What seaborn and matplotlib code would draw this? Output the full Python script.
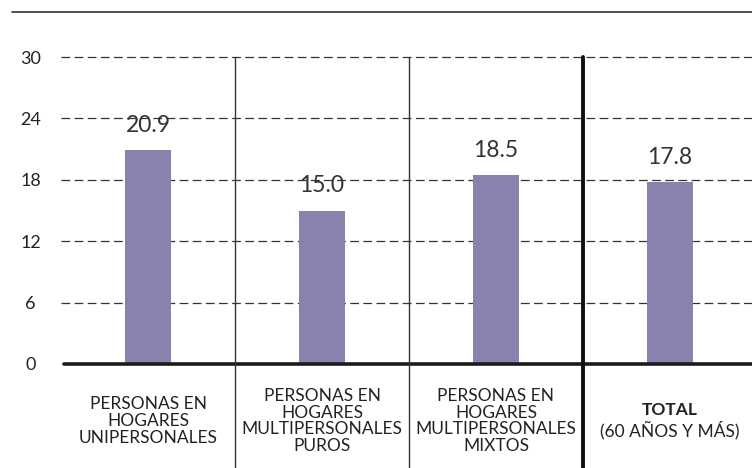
import matplotlib
matplotlib.use("Agg")
import matplotlib.pyplot as plt
from matplotlib.lines import Line2D
import seaborn as sns
import pandas as pd

# ---- data ----
categories = [
    "PERSONAS EN\nHOGARES\nUNIPERSONALES",
    "PERSONAS EN\nHOGARES\nMULTIPERSONALES\nPUROS",
    "PERSONAS EN\nHOGARES\nMULTIPERSONALES\nMIXTOS",
    "TOTAL",
]
total_sub = "(60 AÑOS Y MÁS)"
values = [20.9, 15.0, 18.5, 17.8]
value_labels = ["20.9", "15.0", "18.5", "17.8"]
yticks = [0, 6, 12, 18, 24, 30]

df = pd.DataFrame({"cat": categories, "val": values})

sns.set_theme(style="white")
FONT = ["Lato", "DejaVu Sans"]
plt.rcParams["font.family"] = FONT

W, H = 752, 468
fig = plt.figure(figsize=(W / 100, H / 100), dpi=100)
ax = fig.add_axes([61 / W, 104 / H, 696 / W, 307 / H])

sns.barplot(data=df, x="cat", y="val", order=categories, color="#8783ae",
            saturation=1, width=0.265, ax=ax, edgecolor="none", zorder=3)

ax.set_xlim(-0.5, 3.5)
ax.set_ylim(0, 30)
for s in ax.spines.values():
    s.set_visible(False)
ax.set_xlabel("")
ax.set_ylabel("")

# y ticks
ax.set_yticks(yticks)
ax.set_yticklabels([str(t) for t in yticks], fontsize=13, color="#222222")
ax.tick_params(axis="y", length=0, pad=22)
for lab in ax.get_yticklabels():
    lab.set_horizontalalignment("center")

# gridlines dashed
ax.yaxis.grid(True, linestyle=(0, (7, 3.5)), linewidth=0.9, color="#333333")
ax.set_axisbelow(True)
for k, gl in enumerate(ax.get_ygridlines()):
    gl.set_clip_on(False)
    if k == 0:
        gl.set_visible(False)

# baseline
ax.axhline(0, color="#1a1a1a", linewidth=2.6, zorder=4, xmin=0.004, clip_on=False)

# vertical separators
ymin = -(H - 364) / 307
for xpos, lw, col in [(0.5, 1.0, "#333333"), (1.5, 1.0, "#333333"), (2.5, 2.8, "#111111")]:
    ax.axvline(xpos, ymin=ymin, ymax=1, color=col, linewidth=lw, clip_on=False, zorder=5)

# x labels
ax.set_xticks(range(len(categories)))
ax.set_xticklabels([])
ax.tick_params(axis="x", length=0)
xtr = ax.get_xaxis_transform()
for i, lab in enumerate(categories[:3]):
    ax.text(i, -57 / 307, lab, transform=xtr, ha="center", va="center",
            fontsize=12.5, linespacing=1.04, color="#222222", clip_on=False)
ax.text(3, -46 / 307, categories[3], transform=xtr, ha="center", va="center",
        fontsize=12.5, fontweight="bold", color="#222222", clip_on=False)
ax.text(3, -66 / 307, total_sub, transform=xtr, ha="center", va="center",
        fontsize=12.5, color="#222222", clip_on=False)

# value labels
for i, (v, t) in enumerate(zip(values, value_labels)):
    ax.annotate(t, xy=(i, v), xytext=(0, 13), textcoords="offset points",
                ha="center", va="baseline", fontsize=16.5, color="#333333", zorder=6)

# top rule
fig.add_artist(Line2D([12 / W, 1], [1 - 12 / H, 1 - 12 / H], transform=fig.transFigure,
                      color="#333333", linewidth=1.2))

fig.savefig("out.png", dpi=100)
